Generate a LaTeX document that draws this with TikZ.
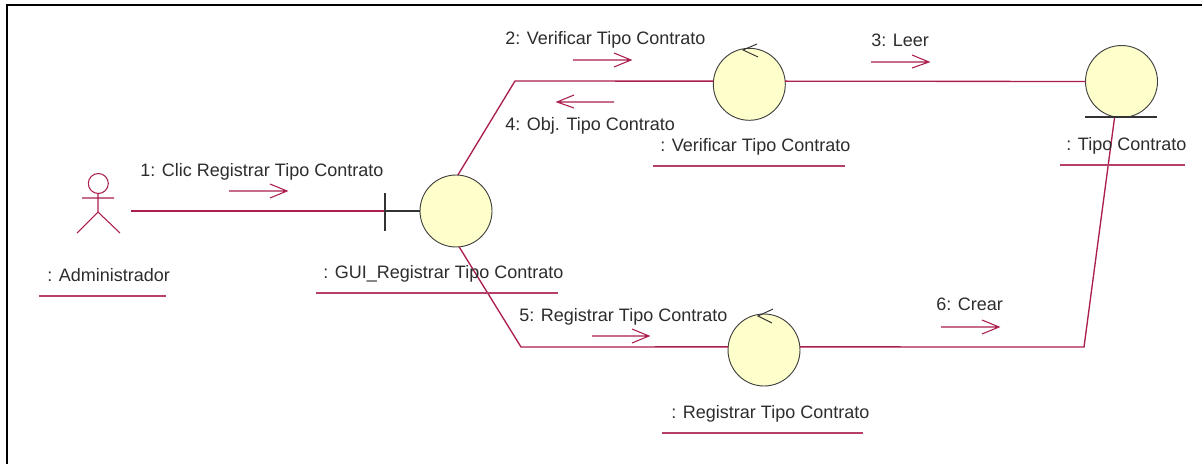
\documentclass[tikz,border=0pt]{standalone}
\usepackage{fontspec}
\setmainfont{Liberation Sans}
\definecolor{umlline}{RGB}{170,30,80}
\definecolor{umlfill}{RGB}{255,255,204}
\definecolor{umltext}{RGB}{45,45,45}
\tikzset{
  x=0.75pt,y=-0.75pt,
  link/.style={draw=umlline,line width=1pt},
  under/.style={draw=umlline!85!white,line width=1pt},
  glyph/.style={draw=umlline,line width=0.8pt},
  obj/.style={circle,draw=black!75,fill=umlfill,line width=0.7pt,minimum size=54pt,inner sep=0pt,outer sep=0pt},
  lbl/.style={font=\fontsize{13.5pt}{16pt}\selectfont,text=umltext,inner sep=0pt,anchor=west},
  flow/.style={draw=umlline,line width=0.8pt},
  blk/.style={draw=black!80,line width=0.9pt}
}
\begin{document}
\begin{tikzpicture}
\useasboundingbox (0,0) rectangle (1202,464);
\fill[white] (0,0) rectangle (1202,464);
\draw[black,line width=1.9pt] (7,464) -- (7,5) -- (1202,5);

% objects and bends
\coordinate (act) at (131,211);
\coordinate (bar) at (385,211);
\coordinate (b1) at (515,81);
\coordinate (b2) at (521,347);
\coordinate (b3) at (1084,347);
\node[obj] (gui) at (456,211) {};
\node[obj] (ver) at (749.3,84.3) {};
\node[obj] (reg) at (764,350) {};
\node[obj] (tipo) at (1121.5,81.5) {};

% connectors
\draw[link] (act) -- (bar);
\draw[blk] (bar) -- (gui.west);
\draw[blk] (385,193) -- (385,231);
\draw[link] (gui.87) -- (b1) -- (ver.175);
\draw[link] (gui.-85) -- (b2) -- (reg.175);
\draw[link] (ver.5) -- (tipo.west);
\draw[link] (reg.5) -- (b3) -- (tipo.259);
\draw[blk] (1085,117) -- (1157,117);

% control arrowheads
\draw[blk,line width=0.7pt] (757,44) -- (743,50) -- (758,57);
\draw[blk,line width=0.7pt] (773,309) -- (758,316) -- (772,323);

% actor
\draw[glyph] (98.3,183.5) circle (10);
\draw[glyph] (98,193.5) -- (98,212) (82,198) -- (114,198) (77,233) -- (98,212) -- (120,233);

% flow arrows
\draw[flow] (229,191) -- (287,191) (270,184) -- (287,191) -- (270,198);
\draw[flow] (573,60) -- (631,60) (614,53) -- (631,60) -- (614,67);
\draw[flow] (871,62) -- (929,62) (912,55) -- (929,62) -- (912,68);
\draw[flow] (614,102) -- (557,102) (574,95) -- (557,102) -- (574,108);
\draw[flow] (592,336) -- (649,336) (632,329) -- (649,336) -- (632,343);
\draw[flow] (941,327) -- (999,327) (982,320) -- (999,327) -- (982,334);

% labels
\node[lbl] (m1) at (140,172) {1: Clic Registrar Tipo Contrato};
\node[lbl] (m2) at (505,40) {2: Verificar Tipo Contrato};
\node[lbl] (m3) at (871,40) {3: Leer};
\node[lbl] (m4) at (505,126) {4: Obj. Tipo Contrato};
\node[lbl] (m5) at (519,317) {5: Registrar Tipo Contrato};
\node[lbl] (m6) at (936,304) {6: Crear};
\node[lbl] (n1) at (47,275) {: Administrador};
\node[lbl] (n2) at (323,274) {: GUI\_Registrar Tipo Contrato};
\node[lbl] (n3) at (660,147) {: Verificar Tipo Contrato};
\node[lbl] (n4) at (1066,146) {: Tipo Contrato};
\node[lbl] (n5) at (671,414) {: Registrar Tipo Contrato};

% underlines
\draw[under] (39,296) -- (166,296);
\draw[under] (316,293) -- (558,293);
\draw[under] (653,166) -- (845,166);
\draw[under] (1060,165) -- (1185,165);
\draw[under] (662,433) -- (863,433);
\end{tikzpicture}
\end{document}
